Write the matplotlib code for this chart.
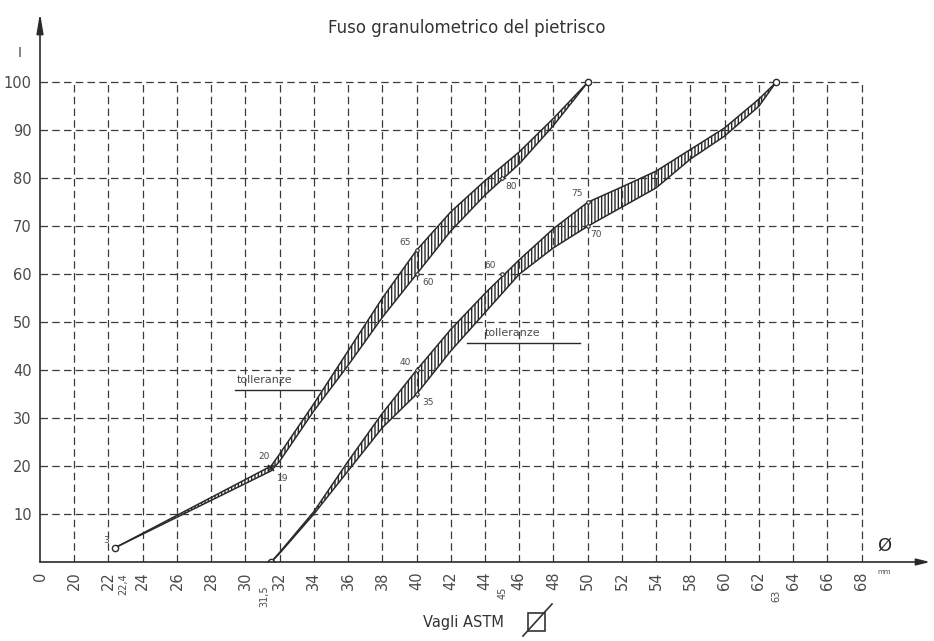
import numpy as np
import matplotlib.pyplot as plt
from matplotlib.lines import Line2D
from matplotlib.patches import Rectangle

# sieve sizes printed along the x axis (equally spaced, 56 missing as in the drawing)
TICK_VALUES = [0, 20, 22, 24, 26, 28, 30, 32, 34, 36, 38, 40, 42, 44, 46, 48,
               50, 52, 54, 58, 60, 62, 64, 66, 68]
TICK_LABELS = [str(v) for v in TICK_VALUES]
Y_TICKS = list(range(10, 101, 10))

# extra sieve values written under the axis
EXTRA_VALUES = [22.4, 31.5, 45, 63]
EXTRA_LABELS = ['22,4', '31,5', '45', '63']

# left band (pietrisco fine)
left_x = [22.4, 31.5, 32, 34, 36, 38, 40, 42, 44, 46, 48, 50]
left_upper = [3, 20, 22.5, 33, 44, 55, 65, 73, 79.5, 85.5, 92.5, 100]
left_lower = [3, 19, 21, 31.5, 41, 51, 60, 69, 76.5, 83, 91, 100]

# right band (pietrisco grosso)
right_x = [31.5, 32, 34, 36, 38, 40, 42, 44, 46, 48, 50, 52, 54, 58, 60, 62, 63]
right_upper = [0, 2, 10.5, 21, 31, 40, 48.5, 56, 63, 69.5, 75, 78.2, 81.5, 86, 90.5, 96.5, 100]
right_lower = [0, 1.8, 10, 19, 28, 35, 44, 52, 60, 65.5, 70, 74, 78, 84, 88.8, 95, 100]

# labelled points: (sieve, percent, text, dx, dy)
POINT_LABELS = [
    (22.4, 3, '3', -9, 2), (31.5, 20, '20', -9, 4), (31.5, 19, '19', 4, -9),
    (40, 65, '65', -12, 2), (40, 60, '60', 4, -9), (45, 80, '80', 2, -9),
    (40, 40, '40', -12, 2), (40, 35, '35', 4, -9), (45, 60, '60', -13, 3),
    (50, 75, '75', -12, 3), (50, 70, '70', 2, -9),
]

INK = '#2a2a2a'
GRID = '#3a3a3a'
TXT = '#4a4a4a'


def pos(v):
    return np.interp(v, TICK_VALUES, np.arange(len(TICK_VALUES)))


plt.rcParams['hatch.linewidth'] = 1.0
plt.rcParams['font.family'] = ['DejaVu Sans']

fig = plt.figure(figsize=(9.34, 6.41), dpi=100)
ax = fig.add_axes([40 / 934, 79 / 641, 890 / 934, 542 / 641])
ax.set_xlim(0, 26)
ax.set_ylim(0, 113)
for s in ax.spines.values():
    s.set_visible(False)

# dashed grid
n = len(TICK_VALUES)
dash = (0, (6, 3.4))
for i in range(1, n):
    ax.plot([i, i], [0, 100], ls=dash, color=GRID, lw=0.9)
for y in Y_TICKS:
    ax.plot([0, n - 1], [y, y], ls=dash, color=GRID, lw=0.9)

# axes with arrows
ax.annotate('', xy=(26, 0), xytext=(0, 0), annotation_clip=False,
            arrowprops=dict(arrowstyle='-|>,head_length=0.8,head_width=0.2',
                            color=INK, lw=1.2, shrinkA=0, shrinkB=0))
ax.annotate('', xy=(0, 114.5), xytext=(0, 0), annotation_clip=False,
            arrowprops=dict(arrowstyle='-|>,head_length=1.2,head_width=0.2',
                            color=INK, lw=1.2, shrinkA=0, shrinkB=0))

ax.set_xticks(np.arange(n), TICK_LABELS, rotation=90, fontsize=10.5, color=TXT)
ax.set_yticks(Y_TICKS, [str(v) for v in Y_TICKS], fontsize=10.5, color=TXT)
ax.tick_params(axis='x', length=0, pad=7)
ax.tick_params(axis='y', length=0, pad=6)

extra_offsets = {22.4: (6, -8), 31.5: (-5, -17), 45: (0, -18), 63: (0, -20)}
for v, lab in zip(EXTRA_VALUES, EXTRA_LABELS):
    ax.annotate(lab, xy=(pos(v), 0), xytext=extra_offsets[v], textcoords='offset points',
                rotation=90, ha='center', va='top', fontsize=7, color=TXT)

# bands
for xs, up, lo in [(left_x, left_upper, left_lower), (right_x, right_upper, right_lower)]:
    px = pos(xs)
    ax.fill_between(px, lo, up, facecolor='none', edgecolor=INK, hatch='|||||', lw=0)
    ax.plot(px, up, color=INK, lw=1.1)
    ax.plot(px, lo, color=INK, lw=1.1)

# labelled points and end points
lx = [p[0] for p in POINT_LABELS[3:]]
ly = [p[1] for p in POINT_LABELS[3:]]
ax.plot(pos(lx), ly, 'o', ms=2.5, mfc='white', mec=INK, mew=0.8)
ax.plot(pos([22.4, 50, 31.5, 63]), [3, 100, 0, 100], 'o', ms=4.5, mfc='white',
        mec=INK, mew=1.0)
ax.plot(pos([31.5]), [19.5], 'x', ms=4, color=INK, mew=1.2)

for xv, yv, t, dx, dy in POINT_LABELS:
    ax.annotate(t, xy=(pos(xv), yv), xytext=(dx, dy), textcoords='offset points',
                fontsize=6.5, color=TXT, ha='left', va='bottom')

# "tolleranze" notes
ax.text(5.75, 37.0, 'tolleranze', fontsize=8, color=TXT, va='bottom')
ax.plot([5.69, 8.18], [35.8, 35.8], color=INK, lw=1.0)
ax.text(13.0, 46.7, 'tolleranze', fontsize=8, color=TXT, va='bottom')
ax.plot([12.47, 15.77], [45.6, 45.6], color=INK, lw=1.0)

# axis symbols
ax.text(24.65, 1.5, 'Ø', fontsize=13, color=INK, ha='center', va='bottom')
ax.text(24.65, -1.5, 'mm', fontsize=5, color=TXT, ha='center', va='top')
fig.text(20 / 934, 1 - 53 / 641, 'I', fontsize=10, color=TXT, ha='center', va='center')

fig.text(467 / 934, 1 - 28 / 641, 'Fuso granulometrico del pietrisco',
         fontsize=12, color='#333333', ha='center', va='center')
fig.text(463 / 934, 1 - 622 / 641, 'Vagli ASTM', fontsize=10.5, color='#333333',
         ha='center', va='center')
W, H = 934, 641
fig.add_artist(Rectangle((528 / W, 1 - 631 / H), 17 / W, 18 / H, fill=False,
                         ec='#333333', lw=1.2, transform=fig.transFigure))
fig.add_artist(Line2D([523 / W, 552 / W], [1 - 636 / H, 1 - 604 / H],
                      color='#333333', lw=1.2, transform=fig.transFigure))

fig.savefig('out.png', dpi=100, facecolor='white')
